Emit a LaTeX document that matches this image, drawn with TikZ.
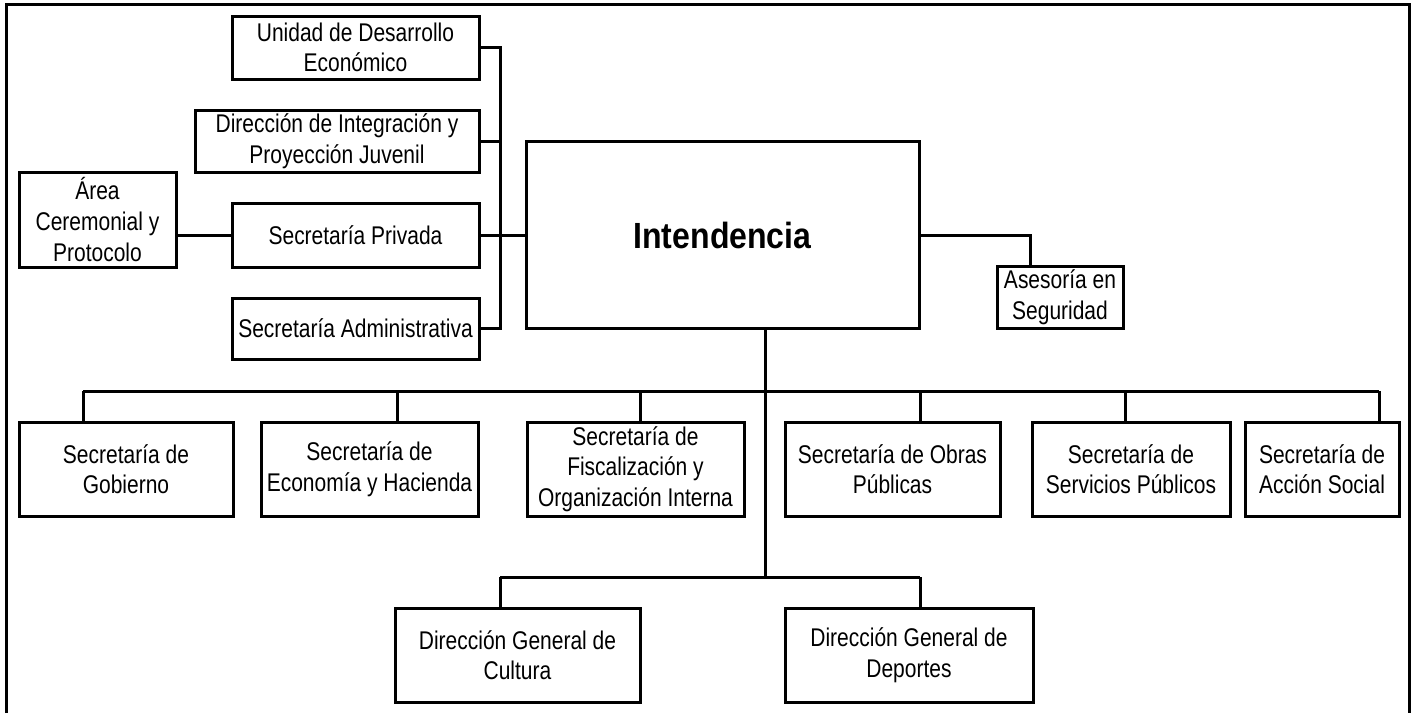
\documentclass[tikz,border=0pt]{standalone}
\usepackage{fontspec}
\setmainfont{Liberation Sans}[FakeStretch=0.82]
\newfontfamily\headfont{Liberation Sans}[FakeStretch=0.88]

\tikzset{
    unit/.style={draw, line width=1.5pt, inner sep=0pt, align=center,
        font=\fontsize{12.8pt}{15.3pt}\selectfont},
    toprow/.style={unit, minimum height=47pt},
    link/.style={line width=1.5pt}
}

\begin{document}
\begin{tikzpicture}[x=0.5pt, y=-0.5pt]
    \useasboundingbox (0,0) rectangle (1414,713);

    % Outer frame, open at the bottom
    \draw[link] (6,713) -- (6,4) -- (1409,4) -- (1409,713);

    % Head of the chart
    \node[unit, minimum width=196.5pt, minimum height=93.5pt,
        font=\headfont\fontsize{18.2pt}{22pt}\selectfont\bfseries] (int) at (722.5,235) {Intendencia};
    \node[unit, minimum width=63pt, minimum height=31pt] (ase) at (1060,297) {Asesoría en\\Seguridad};

    % Staff units on the left
    \node[unit, minimum width=123.5pt, minimum height=31.5pt] (ude) at (355.5,47.5) {Unidad de Desarrollo\\Económico};
    \node[unit, minimum width=142pt, minimum height=31pt] (dij) at (337,141) {Dirección de Integración y\\Proyección Juvenil};
    \node[unit, minimum width=123.5pt, minimum height=32pt] (spr) at (355.5,235) {Secretaría Privada};
    \node[unit, minimum width=123.5pt, minimum height=30.5pt] (sad) at (355.5,328.5) {Secretaría Administrativa};
    \node[unit, minimum width=78.5pt, minimum height=47.5pt] (acp) at (97.5,219.5) {Área\\Ceremonial y\\Protocolo};

    % Secretariats
    \node[toprow, minimum width=107pt] (gob) at (126,469) {Secretaría de\\Gobierno};
    \node[toprow, minimum width=108.5pt] (eco) at (369.5,469) {Secretaría de\\Economía y Hacienda};
    \node[toprow, minimum width=108.5pt] (fis) at (635.5,469) {Secretaría de\\Fiscalización y\\Organización Interna};
    \node[toprow, minimum width=107.5pt] (obr) at (892.5,469) {Secretaría de Obras\\Públicas};
    \node[toprow, minimum width=99pt] (ser) at (1131,469) {Secretaría de\\Servicios Públicos};
    \node[toprow, minimum width=77pt] (acc) at (1322,469) {Secretaría de\\Acción Social};

    % General directions
    \node[toprow, minimum width=122.5pt] (cul) at (517.5,655) {Dirección General de\\Cultura};
    \node[toprow, minimum width=124pt] (dep) at (909,655) {Dirección General de\\Deportes};

    % Left bus
    \coordinate (lbus) at (500,0);
    \draw[link] (ude.east) -| (sad.east -| lbus) -- (sad.east);
    \draw[link] (dij.east) -- (dij.east -| lbus);
    \draw[link] (spr.east) -- (int.west);
    \draw[link] (acp.east |- spr.west) -- (spr.west);

    % Advisor
    \coordinate (adrop) at (1030,0);
    \draw[link] (int.east) -| (adrop |- ase.north);

    % Trunk down to the lower bus
    \coordinate (hub) at (765,577);
    \draw[link] (int.south -| hub) -- (hub);

    % Drops to each unit
    \foreach \n/\x in {gob/83, eco/397, fis/640, obr/920, ser/1125, acc/1379}
        \path (\x,391) coordinate (d\n);
    \foreach \n/\x in {cul/500, dep/920}
        \path (\x,577) coordinate (d\n);
    \foreach \n in {gob, eco, fis, obr, ser, acc, cul, dep}
        \draw[link] (d\n) -- (d\n |- \n.north);
    \draw[link] (dgob) -- (dacc);
    \draw[link] (dcul) -- (ddep);

\end{tikzpicture}
\end{document}
